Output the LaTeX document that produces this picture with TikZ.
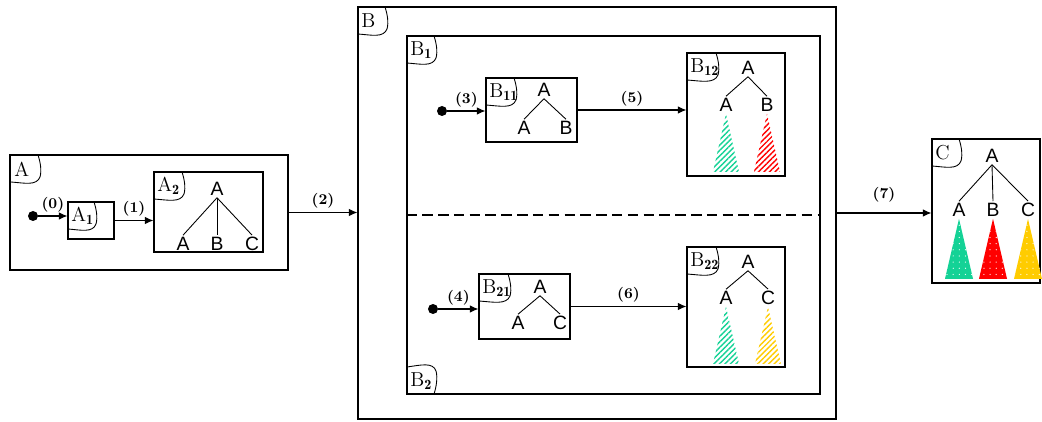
\documentclass[tikz,border=0pt]{standalone}
\usepackage{fontspec}
\newfontfamily\treefont{Liberation Sans}
\usetikzlibrary{arrows.meta,patterns.meta}
\definecolor{grn}{RGB}{20,210,150}
\definecolor{rd}{RGB}{255,0,0}
\definecolor{yl}{RGB}{255,204,0}
\begin{document}
\begin{tikzpicture}[x=0.02cm,y=-0.02cm,
    box/.style 2 args={draw,line width=0.7pt,minimum width=#1*0.02cm,minimum height=#2*0.02cm,inner sep=0},
    tabtxt/.style={anchor=west,inner sep=0,font=\fontsize{11.5}{13}\selectfont},
    tabln/.style={line width=0.5pt},
    lt/.style={font=\treefont\fontsize{11}{12}\selectfont,inner sep=1pt},
    edge/.style={line width=0.5pt},
    dot/.style={circle,fill=black,inner sep=0,minimum size=0.2cm},
    arr/.style={-{Latex[length=1.7mm,width=1.5mm]},line width=0.6pt},
    num/.style={above,inner sep=2pt,font=\fontsize{8.5}{10}\selectfont\bfseries},
    hatch/.style={pattern={Lines[angle=45,distance=2.2pt,line width=0.8pt]},pattern color=#1},
    spot/.style={pattern={Dots[distance=3.5pt,radius=0.35pt]},pattern color=white}]
  \useasboundingbox (0,0) rectangle (1042,422);
  % boxes
  \node[box={278}{115}] (A) at (149,212.5) {};
  \node[box={46}{37}] (A1) at (91,220.5) {};
  \node[box={109}{80}] (A2) at (208.5,212) {};
  \node[box={478}{412}] (B) at (597,213) {};
  \node[box={413}{358}] (Bin) at (613.5,215) {};
  \node[box={91}{64}] (B11) at (531.5,110) {};
  \node[box={98}{123}] (B12) at (736,114.5) {};
  \node[box={91}{65}] (B21) at (524.5,306.5) {};
  \node[box={98}{120}] (B22) at (736,307) {};
  \node[box={108}{144}] (C) at (986,211) {};
  \draw[line width=0.8pt,dash pattern=on 6pt off 3pt] (Bin.west) -- (Bin.east);
  % corner tabs
  \foreach \n/\x/\y/\w/\t in {A/11/155/30/A, A1/68/202/29/A$_\mathbf{1}$,
      A2/154/172/31/A$_\mathbf{2}$, B/358/7/30/B, B1/407/36/30/B$_\mathbf{1}$,
      B11/486/78/31/B$_\mathbf{11}$, B12/687/53/32/B$_\mathbf{12}$,
      B21/479/274/32/B$_\mathbf{21}$, B22/687/247/32/B$_\mathbf{22}$, C/932/139/30/C}{
    \node[tabtxt] (t\n) at (\x+3,\y+14) {\t};
    \draw[tabln] (\x,\y+27) .. controls (\x+0.45*\w,\y+28) and (\x+0.85*\w,\y+31)
      .. (\x+\w-1,\y+22) .. controls (\x+\w+1,\y+15) and (\x+\w-1,\y+6) .. (\x+\w-3,\y);
  }
  \node[tabtxt] (tB2) at (410,381) {B$_\mathbf{2}$};
  \draw[tabln] (407,367) .. controls (421,365) and (433,362) .. (436,371)
    .. controls (438,378) and (436,388) .. (434,394);
  % tree in A2
  \node[lt] (a0) at (217,189) {A};
  \foreach \i/\x/\t in {1/183/A, 2/217/B, 3/252/C}{
    \node[lt] (a\i) at (\x,244) {\t};
    \draw[edge] (a0.south) -- (a\i.north);
  }
  % trees in B11 and B21
  \node[lt] (b0) at (544,90) {A};
  \foreach \i/\x/\t in {1/524/A, 2/566/B}{
    \node[lt] (b\i) at (\x,128) {\t};
    \draw[edge] (b0.south) -- (b\i.north);
  }
  \node[lt] (d0) at (540,287) {A};
  \foreach \i/\x/\t in {1/518/A, 2/560/C}{
    \node[lt] (d\i) at (\x,323) {\t};
    \draw[edge] (d0.south) -- (d\i.north);
  }
  % trees in B12 and B22, hatched subtrees
  \node[lt] (e0) at (748,68) {A};
  \foreach \i/\x/\t/\c in {1/726/A/grn, 2/767/B/rd}{
    \node[lt] (e\i) at (\x,105) {\t};
    \draw[edge] (e0.south) -- (e\i.north);
    \fill[hatch=\c] (e\i.south) -- ++(-13,58) -- ++(26,0) -- cycle;
  }
  \node[lt] (f0) at (748,262) {A};
  \foreach \i/\x/\t/\c in {1/726/A/grn, 2/768/C/yl}{
    \node[lt] (f\i) at (\x,298) {\t};
    \draw[edge] (f0.south) -- (f\i.north);
    \fill[hatch=\c] (f\i.south) -- ++(-13,57) -- ++(26,0) -- cycle;
  }
  % tree in C, dotted subtrees
  \node[lt] (g0) at (992,156) {A};
  \foreach \i/\x/\t/\c in {1/959/A/grn, 2/993/B/rd, 3/1028/C/yl}{
    \node[lt] (g\i) at (\x,210) {\t};
    \draw[edge] (g0.south) -- (g\i.north);
    \fill[\c] (g\i.south) -- ++(-14,60) -- ++(28,0) -- cycle;
    \fill[spot] (g\i.south) -- ++(-14,60) -- ++(28,0) -- cycle;
  }
  % start dots and arrows
  \node[dot] (s0) at (33,216) {};
  \node[dot] (s3) at (442,111) {};
  \node[dot] (s4) at (433,309) {};
  \draw[arr] (s0) -- node[num] {(0)} (s0 -| A1.west);
  \draw[arr] (A1.east) -- node[num] {(1)} (A1.east -| A2.west);
  \draw[arr] (A.east) -- node[num] {(2)} (A.east -| B.west);
  \draw[arr] (s3) -- node[num] {(3)} (s3 -| B11.west);
  \draw[arr] (s4) -- node[num] {(4)} (s4 -| B21.west);
  \draw[arr] (B11.east) -- node[num] {(5)} (B11.east -| B12.west);
  \draw[arr] (B21.east) -- node[num] {(6)} (B21.east -| B22.west);
  \draw[arr] (B.east) -- node[num,yshift=4pt] {(7)} (B.east -| C.west);
\end{tikzpicture}
\end{document}
